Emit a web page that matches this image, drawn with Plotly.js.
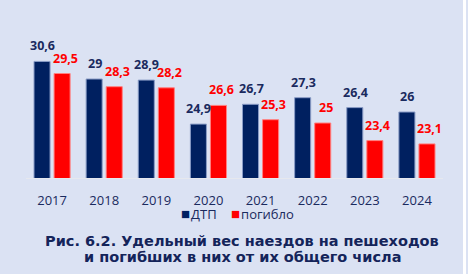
<!DOCTYPE html>
<html>
<head>
<meta charset="utf-8">
<script src="https://cdn.plot.ly/plotly-3.0.1.min.js"></script>
<style>
html,body{margin:0;padding:0;background:#dbe2f3;}
#chart{width:468px;height:274px;}
#strip{position:absolute;left:463px;top:0;width:3px;height:274px;background:#ffffff;}
</style>
</head>
<body>
<div id="chart"></div>
<div id="strip"></div>
<script>
const years = ['2017','2018','2019','2020','2021','2022','2023','2024'];
const dtp = [30.6, 29, 28.9, 24.9, 26.7, 27.3, 26.4, 26];
const killed = [29.5, 28.3, 28.2, 26.6, 25.3, 25, 23.4, 23.1];
const seriesNames = ['ДТП', 'погибло'];
const captionLines = ['Рис. 6.2. Удельный вес наездов на пешеходов', 'и погибших в них от их общего числа'];

const navy = '#002060';
const red = '#ff0000';
const txt = '#1a2a5e';
const FONT = 'Open Sans';
const fmt = v => String(v).replace('.', ',');

const traces = [
  {type:'bar', name:seriesNames[0], x:years, y:dtp,
   marker:{color:navy, line:{color:'#8a9cc6', width:1}}, hoverinfo:'none', showlegend:false},
  {type:'bar', name:seriesNames[1], x:years, y:killed,
   marker:{color:red, line:{color:'#ff8080', width:1}}, hoverinfo:'none', showlegend:false}
];

const annotations = [];
years.forEach((yr, i) => {
  annotations.push({x:i, y:dtp[i], xref:'x', yref:'y', text:fmt(dtp[i]), showarrow:false,
    xanchor:'center', yanchor:'bottom', xshift:-9.5, yshift:5,
    font:{family:FONT, size:12.5, color:txt, weight:'bold'}});
  annotations.push({x:i, y:killed[i], xref:'x', yref:'y', text:fmt(killed[i]), showarrow:false,
    xanchor:'center', yanchor:'bottom', xshift:13, yshift:5,
    font:{family:FONT, size:12.5, color:red, weight:'bold'}});
});
// legend entries
const gap = '<span style="font-size:4px"> </span>';
annotations.push({x:0.366, y:-0.229, xref:'paper', yref:'paper', showarrow:false,
  xanchor:'left', yanchor:'middle',
  text:'<span style="color:' + navy + ';font-size:15px">■</span>' + gap + seriesNames[0],
  font:{family:FONT, size:13, color:txt}});
annotations.push({x:0.487, y:-0.229, xref:'paper', yref:'paper', showarrow:false,
  xanchor:'left', yanchor:'middle',
  text:'<span style="color:' + red + ';font-size:15px">■</span>' + gap + seriesNames[1],
  font:{family:FONT, size:13, color:txt}});
// caption (two lines)
const capY = [-0.412, -0.516];
captionLines.forEach((line, k) => {
  annotations.push({x:0.518, y:capY[k], xref:'paper', yref:'paper', text:line, showarrow:false,
    xanchor:'center', yanchor:'middle', align:'center',
    font:{family:'DejaVu Sans', size:14.5, color:'#14245a', weight:'bold'}});
});

const layout = {
  width:468, height:274,
  margin:{l:26, r:25, t:24, b:96, pad:0},
  paper_bgcolor:'#dbe2f3', plot_bgcolor:'#dbe2f3',
  barmode:'group', bargap:0.23, bargroupgap:0.2,
  showlegend:false,
  xaxis:{type:'category', range:[-0.5, 7.5], showgrid:false, zeroline:false, showline:true,
    linecolor:'#e6e8ee', linewidth:1, ticks:'', ticklabelstandoff:10,
    tickfont:{family:FONT, size:13, color:txt}, fixedrange:true},
  yaxis:{range:[20,34], visible:false, fixedrange:true},
  annotations:annotations
};

Plotly.newPlot('chart', traces, layout, {displayModeBar:false, staticPlot:true});
</script>
</body>
</html>
